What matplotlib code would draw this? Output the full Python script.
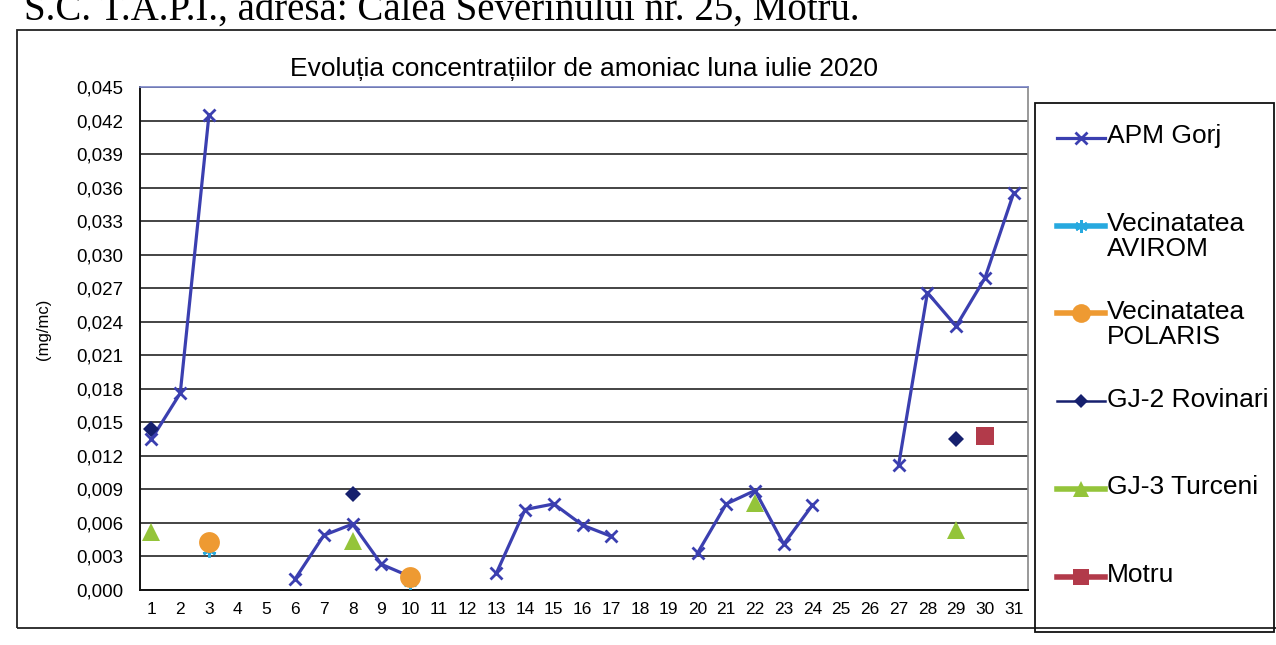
import numpy as np
import matplotlib
matplotlib.use("Agg")
import matplotlib.pyplot as plt
from matplotlib.lines import Line2D
from matplotlib.patches import Rectangle
from matplotlib.ticker import FixedLocator, FuncFormatter

nan = np.nan
days = list(range(1, 32))
apm_gorj = [0.0135, 0.0176, 0.0425, nan, nan, 0.0010, 0.0049, 0.0059, 0.0023, 0.0012,
            nan, nan, 0.0015, 0.0072, 0.0077, 0.0058, 0.0048, nan, nan, 0.0033,
            0.0077, 0.0089, 0.0041, 0.0076, nan, nan, 0.0112, 0.0266, 0.0236, 0.0279, 0.0355]
avirom = {3: 0.0036, 10: 0.0007}
polaris = {3: 0.0043, 10: 0.0012}
rovinari = {1: 0.0144, 8: 0.0086, 29: 0.0135}
turceni = {1: 0.0052, 8: 0.0044, 22: 0.0078, 29: 0.0054}
motru = {30: 0.0138}

y_ticks = [i * 0.003 for i in range(16)]
series_names = ["APM Gorj", "Vecinatatea\nAVIROM", "Vecinatatea\nPOLARIS",
                "GJ-2 Rovinari", "GJ-3 Turceni", "Motru"]
title = "Evoluția concentrațiilor de amoniac luna iulie 2020"
ylabel = "(mg/mc)"
header = "S.C. T.A.P.I., adresa: Calea Severinului nr. 25, Motru."


def full(d):
    return [d.get(x, nan) for x in days]


plt.rcParams['font.family'] = ['Liberation Sans', 'DejaVu Sans']

W, H = 1276, 645
fig = plt.figure(figsize=(W / 100, H / 100), dpi=100)
fig.patch.set_facecolor('white')

def fx(px):
    return px / W

def fy(py):
    return 1 - py / H

# header text of the scanned page (top cut off as in the scan)
fig.text(fx(860), fy(20), header, family='Liberation Serif', fontsize=28,
         ha='right', va='baseline', color='black')

# outer chart border
fig.patches.append(Rectangle((fx(17), fy(628)), fx(1400) - fx(17), fy(30) - fy(628),
                             transform=fig.transFigure, fill=False,
                             edgecolor='#222222', lw=1.3))

L, R, T, B = 140, 1028, 87, 590
ax = fig.add_axes([fx(L), fy(B), fx(R) - fx(L), fy(T) - fy(B)])

styles = [
    dict(color='#3b3fb0', marker='x', ms=9, mew=2.0, lw=2.3),
    dict(color='#27a9df', marker=(6, 2, 0), ms=10, mew=2.0, lw=3.5),
    dict(color='#ee9a32', marker='o', ms=15, mew=0, lw=3.5),
    dict(color='#16206e', marker='D', ms=8, mew=0, lw=1.8),
    dict(color='#94c43a', marker='^', ms=13, mew=0, lw=3.5),
    dict(color='#b23a4a', marker='s', ms=13, mew=0, lw=3.5),
]
data = [apm_gorj, full(avirom), full(polaris), full(rovinari), full(turceni), full(motru)]

for vals, st in zip(data, styles):
    ax.plot(days, vals, color=st['color'], lw=st['lw'], marker=st['marker'],
            ms=st['ms'], mew=st['mew'], mec=st['color'], mfc=st['color'],
            zorder=3, clip_on=False)

ax.set_xlim(0.6, 31.5)
ax.set_ylim(0, 0.045)
ax.yaxis.set_major_locator(FixedLocator(y_ticks))
ax.yaxis.set_major_formatter(FuncFormatter(lambda v, p: f"{v:.3f}".replace('.', ',')))
ax.set_xticks(days)
ax.set_xticklabels([str(d) for d in days])
ax.tick_params(axis='y', length=0, pad=12, labelsize=13.5)
ax.tick_params(axis='x', length=0, pad=9, labelsize=12.5)
ax.grid(axis='y', color='#111111', lw=1.1)
ax.set_axisbelow(True)
for s in ['left', 'bottom']:
    ax.spines[s].set_color('#111111')
    ax.spines[s].set_linewidth(1.4)
ax.spines['top'].set_color('#7b86c8')
ax.spines['top'].set_linewidth(1.2)
ax.spines['right'].set_color('#888888')
ax.spines['right'].set_linewidth(1.2)

ax.set_title(title, fontsize=19, pad=8)
fig.text(fx(43), fy(329), ylabel, rotation=90, fontsize=12, ha='center', va='center')

# legend box
fig.patches.append(Rectangle((fx(1035), fy(632)), fx(1274) - fx(1035), fy(103) - fy(632),
                             transform=fig.transFigure, fill=False,
                             edgecolor='#111111', lw=1.3))
y0, step = 138, 87.7
for i, (name, st) in enumerate(zip(series_names, styles)):
    yy = fy(y0 + i * step)
    fig.lines.append(Line2D([fx(1057), fx(1105)], [yy, yy], transform=fig.transFigure,
                            color=st['color'], lw=st['lw'] if i in (0, 3) else 4.0))
    fig.lines.append(Line2D([fx(1081)], [yy], transform=fig.transFigure,
                            color=st['color'], marker=st['marker'],
                            ms=st['ms'] * 0.9, mew=st['mew'], mec=st['color'], mfc=st['color']))
    fig.text(fx(1107), yy + 13.5 / H, name, fontsize=19, ha='left', va='top',
             linespacing=1.05)

fig.savefig("out.png", dpi=100, facecolor='white')
